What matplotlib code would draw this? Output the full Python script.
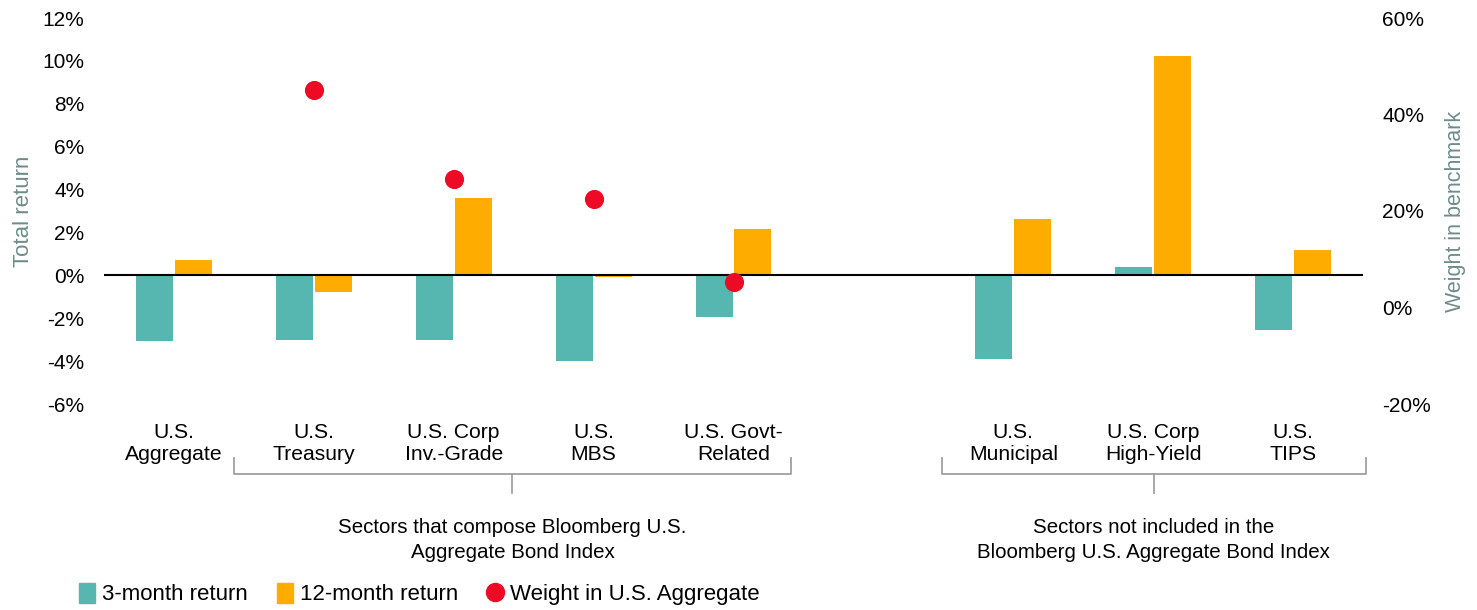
import numpy as np
import matplotlib
matplotlib.use("Agg")
import matplotlib.pyplot as plt
import matplotlib.transforms as mtransforms
from matplotlib.patches import Patch
from matplotlib.lines import Line2D

plt.rcParams['font.family'] = ['Liberation Sans', 'DejaVu Sans']

# data
categories = ['U.S.\nAggregate', 'U.S.\nTreasury', 'U.S. Corp\nInv.-Grade', 'U.S.\nMBS',
              'U.S. Govt-\nRelated', '', 'U.S.\nMunicipal', 'U.S. Corp\nHigh-Yield', 'U.S.\nTIPS']
ret_3m = [-3.06, -3.02, -3.03, -4.01, -1.96, np.nan, -3.92, 0.37, -2.56]
ret_12m = [0.70, -0.76, 3.59, -0.10, 2.15, np.nan, 2.61, 10.21, 1.17]
weight = [np.nan, 45.1, 26.6, 22.5, 5.3, np.nan, np.nan, np.nan, np.nan]

groups = ['Sectors that compose Bloomberg U.S.\nAggregate Bond Index',
          'Sectors not included in the\nBloomberg U.S. Aggregate Bond Index']
group_spans = [(0.43, 4.41), (5.49, 8.52)]

teal = '#55B7B0'
orange = '#FFAC00'
red = '#EE0A24'
axis_grey = '#6E8C8A'

x = np.arange(len(categories))
w = 0.265

fig = plt.figure(figsize=(14.77, 6.10), dpi=100)
ax = fig.add_axes([104/1477, 1-404/610, (1363-104)/1477, (404-18)/610])
ax2 = ax.twinx()

ax.bar(x - 0.139, ret_3m, w, color=teal, zorder=2)
ax.bar(x + 0.139, ret_12m, w, color=orange, zorder=2)
ax.axhline(0, color='black', lw=1.5, zorder=3)
ax2.scatter(x, weight, s=190, color=red, zorder=4, linewidths=0)

ax.set_xlim(-0.5, 8.5)
ax.set_ylim(-6, 12)
ax.set_yticks(np.arange(-6, 13, 2))
ax.set_yticklabels([f'{v}%' for v in range(-6, 13, 2)])
ax2.set_ylim(-20, 60)
ax2.set_yticks(np.arange(-20, 61, 20))
ax2.set_yticklabels([f'{v}%' for v in range(-20, 61, 20)])

ax.set_xticks(x)
ax.set_xticklabels(categories, fontsize=15.2, linespacing=1.2)
ax.tick_params(axis='x', length=0, pad=14)
ax.tick_params(axis='y', length=0, pad=14, labelsize=15)
ax2.tick_params(axis='y', length=0, pad=14, labelsize=15)

for a in (ax, ax2):
    for s in a.spines.values():
        s.set_visible(False)

ax.set_ylabel('Total return', fontsize=16, color=axis_grey, labelpad=6)
ax2.set_ylabel('Weight in benchmark', fontsize=15.5, color=axis_grey, labelpad=10)

# brackets under the category labels
tr = mtransforms.blended_transform_factory(ax.transData, fig.transFigure)
y_top, y_mid, y_bot = 1 - 458/610, 1 - 474/610, 1 - 493/610
for (x0, x1), label in zip(group_spans, groups):
    xm = (x0 + x1) / 2
    ax.plot([x0, x0, x1, x1], [y_top, y_mid, y_mid, y_top], transform=tr,
            color='#A0A0A0', lw=1.3, clip_on=False)
    ax.plot([xm, xm], [y_mid, y_bot], transform=tr, color='#A0A0A0', lw=1.3, clip_on=False)
    ax.text(xm, 1 - 540/610, label, transform=tr, ha='center', va='center',
            fontsize=14.75, linespacing=1.4)

handles = [Patch(color=teal), Patch(color=orange),
           Line2D([], [], marker='o', ls='', color=red, markersize=13)]
labels = ['3-month return', '12-month return', 'Weight in U.S. Aggregate']
fig.legend(handles, labels, loc='center left', bbox_to_anchor=(79/1477, 1 - 594/610),
           ncol=3, frameon=False, fontsize=16, handlelength=0.72, handleheight=1.0,
           handletextpad=0.32, columnspacing=1.3, borderpad=0, borderaxespad=0)

fig.savefig('out.png', dpi=100)
